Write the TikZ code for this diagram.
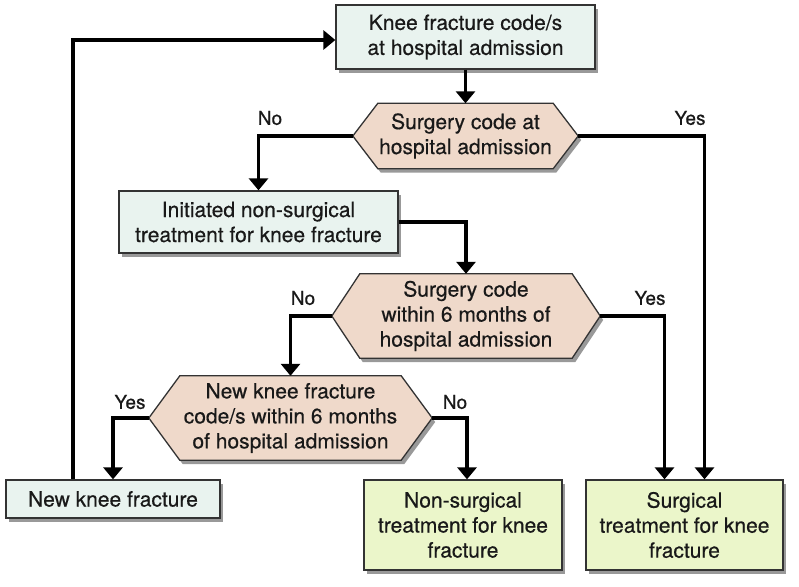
\documentclass[tikz,border=0pt]{standalone}
\usepackage{fontspec}
\setmainfont{TeX Gyre Heros}[FakeBold=0.5]
\usetikzlibrary{shadows,arrows.meta,calc}
\pgfdeclarelayer{bg}
\pgfsetlayers{bg,main}
\definecolor{boxblue}{HTML}{E9F3EF}
\definecolor{hexpeach}{HTML}{EFD9CA}
\definecolor{boxgreen}{HTML}{EBF6CA}
\definecolor{edgegray}{HTML}{333333}
\newcommand\drawhexa[2]{%
  \begin{pgfonlayer}{bg}
  \path[hexshape] (#1.west) -- ([xshift=#2]#1.north west) -- ([xshift=-#2]#1.north east)
    -- (#1.east) -- ([xshift=-#2]#1.south east) -- ([xshift=#2]#1.south west) -- cycle;
  \end{pgfonlayer}}
\begin{document}
\begin{tikzpicture}[x=1pt,y=-1pt,
  every node/.style={font=\fontsize{21}{25}\selectfont, align=center, inner sep=0pt, text=black!90},
  shad/.style={drop shadow={shadow xshift=3pt,shadow yshift=-4pt,fill=black,opacity=.4}},
  stepbox/.style={draw=edgegray, line width=1.3pt, fill=boxblue, shad},
  finalbox/.style={draw=edgegray, line width=1.3pt, fill=boxgreen, shad},
  hexshape/.style={draw=edgegray, line width=1.3pt, fill=hexpeach, shad},
  hextext/.style={},
  conn/.style={line width=3.5pt, -{Triangle[width=19pt,length=12pt]}},
  lbl/.style={font=\fontsize{19}{22}\selectfont}
]
\useasboundingbox (0,0) rectangle (799,586);

\node[stepbox, minimum width=259pt, minimum height=64pt] (box1) at (465.5,37) {Knee fracture code/s\\at hospital admission};
\node[hextext, minimum width=225pt, minimum height=65pt] (hex1) at (465.5,136) {Surgery code at\\hospital admission};
\drawhexa{hex1}{25pt}
\node[stepbox, minimum width=279pt, minimum height=62pt] (box2) at (258.5,222) {Initiated non-surgical\\treatment for knee fracture};
\node[hextext, minimum width=268pt, minimum height=84pt] (hex2) at (466,316) {Surgery code\\within 6 months of\\hospital admission};
\drawhexa{hex2}{28pt}
\node[hextext, minimum width=283pt, minimum height=84pt] (hex3) at (290.5,418) {New knee fracture\\code/s within 6 months\\of hospital admission};
\drawhexa{hex3}{31pt}
\node[stepbox, minimum width=214pt, minimum height=38pt] (nkf) at (113,499) {New knee fracture};
\node[finalbox, minimum width=198pt, minimum height=90pt] (nons) at (463,525) {Non-surgical\\treatment for knee\\fracture};
\node[finalbox, minimum width=197pt, minimum height=90pt] (surg) at (684.5,525) {Surgical\\treatment for knee\\fracture};

\draw[conn] (box1.south) -- (hex1.north);
\draw[conn] (hex1.west) -| (box2.north);
\draw[conn] (hex1.east) -| ([xshift=20pt]surg.north);
\draw[conn] (box2.east) -| (hex2.north);
\draw[conn] (hex2.west) -| (hex3.north);
\draw[conn] (hex2.east) -| ([xshift=-20pt]surg.north);
\draw[conn] (hex3.west) -| (nkf.north);
\draw[conn] (hex3.east) -| ([xshift=4pt]nons.north);
\coordinate (back) at ([xshift=-40pt]nkf.north |- 0,40);
\draw[conn] ([xshift=-40pt]nkf.north) -- (back) -- (back -| box1.west);

\node[lbl] (l1) at (270,118) {No};
\node[lbl] (l2) at (690,118) {Yes};
\node[lbl] (l3) at (303,298) {No};
\node[lbl] (l4) at (650,298) {Yes};
\node[lbl] (l5) at (130,402) {Yes};
\node[lbl] (l6) at (455,402) {No};
\end{tikzpicture}
\end{document}
